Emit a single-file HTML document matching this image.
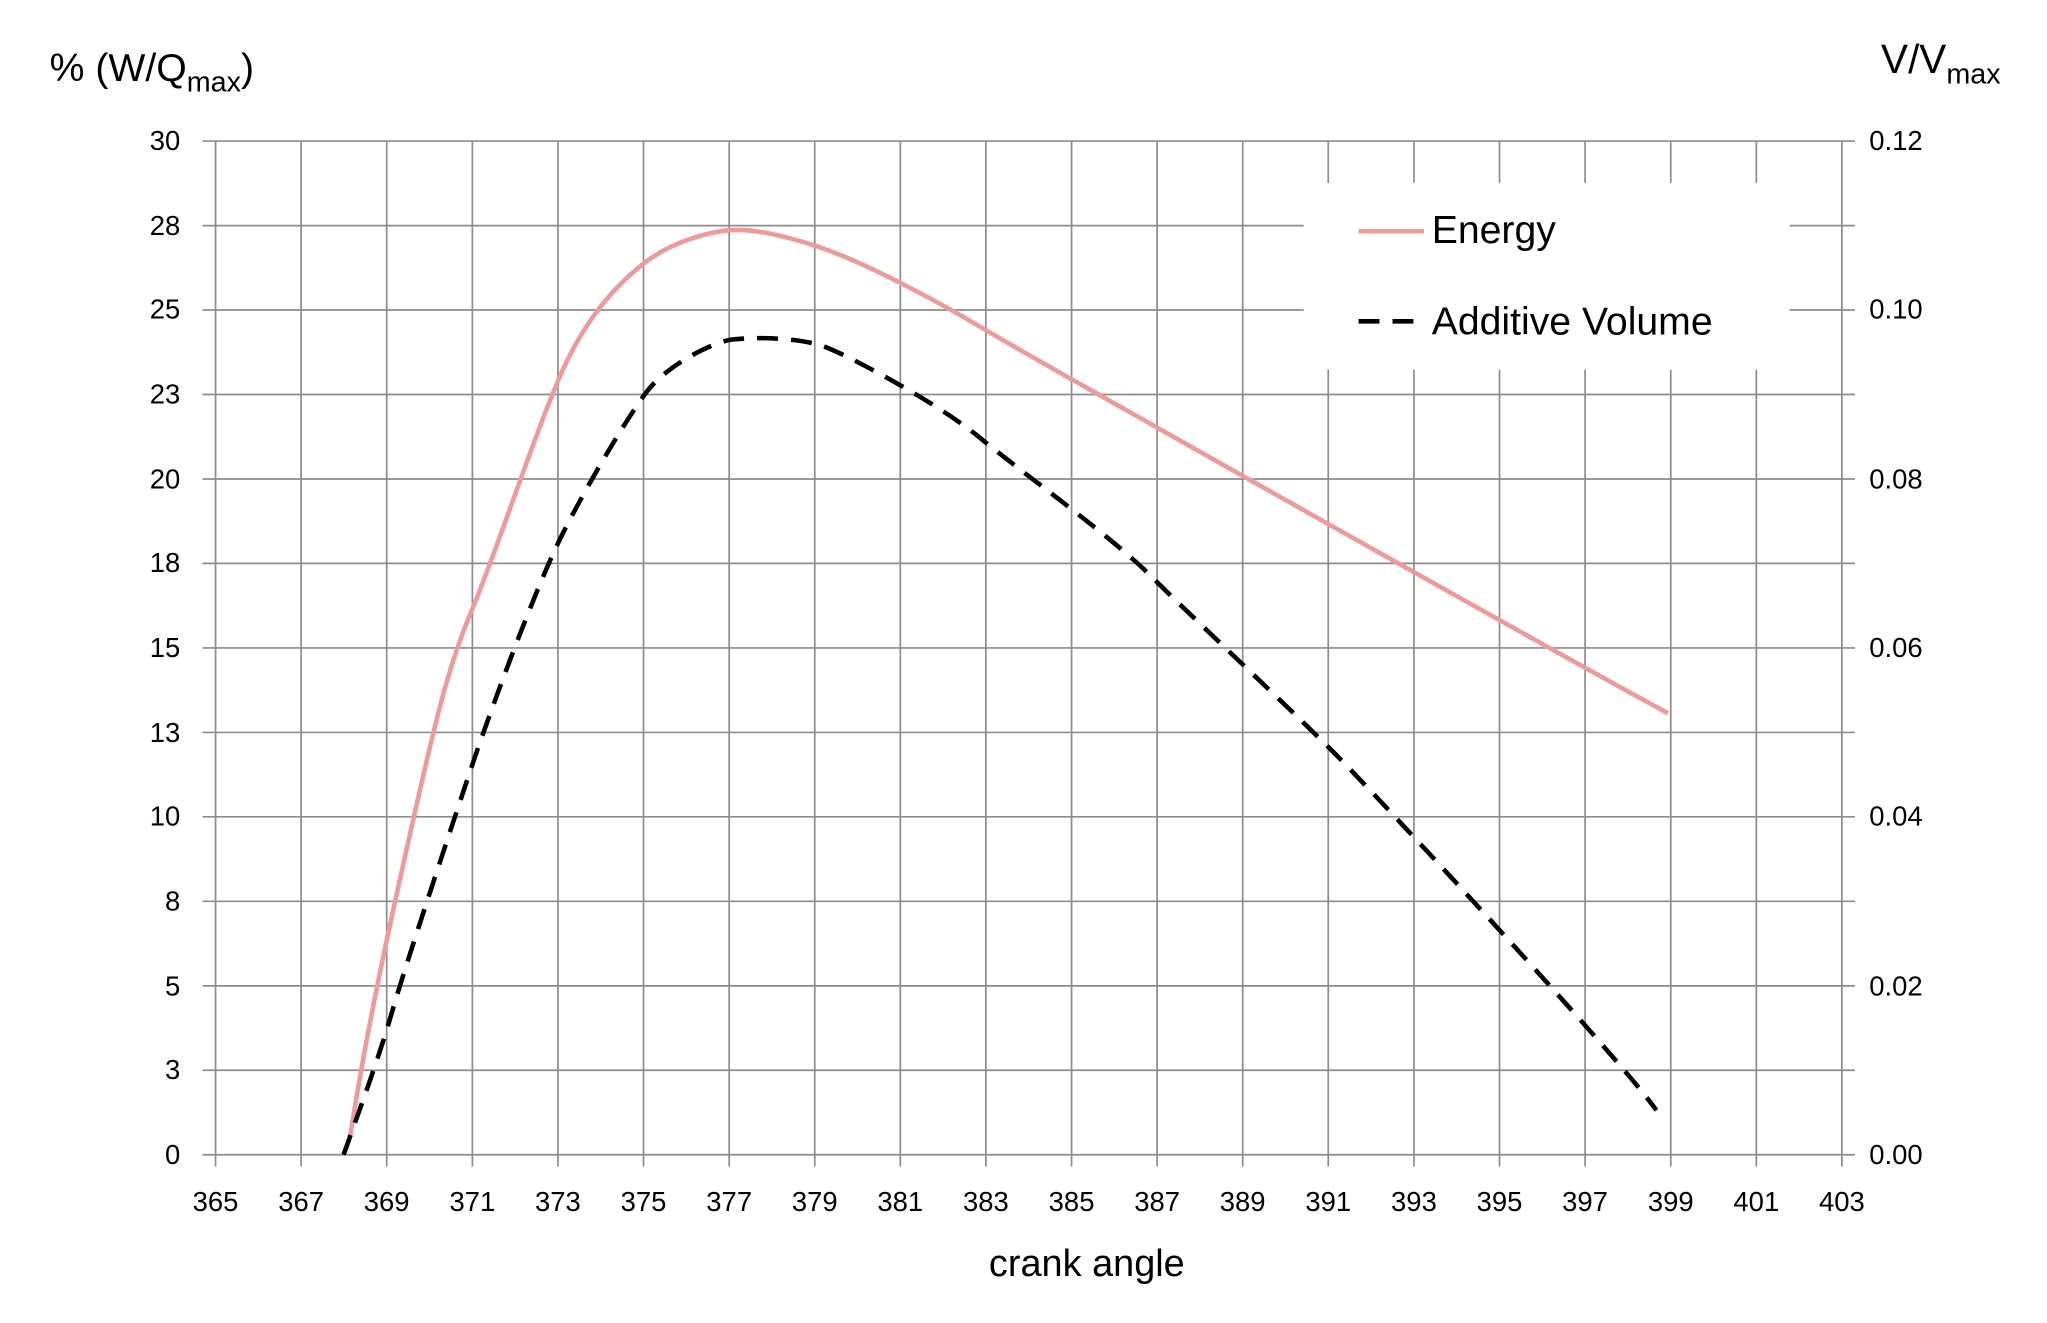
<!DOCTYPE html>
<html><head><meta charset="utf-8"><style>html,body{margin:0;padding:0;background:#fff;overflow:hidden;width:2047px;height:1323px}svg{display:block}</style></head>
<body>
<svg width="2047" height="1323" viewBox="0 0 1567 1012.8" xmlns="http://www.w3.org/2000/svg" font-family="'Liberation Sans', sans-serif">
<rect width="1567" height="1012.8" fill="#fff"/>
<g stroke="#8c8c8c" stroke-width="1.3">
<line x1="155" y1="108" x2="1420" y2="108"/><line x1="155" y1="172.7" x2="1420" y2="172.7"/><line x1="155" y1="237.3" x2="1420" y2="237.3"/><line x1="155" y1="302" x2="1420" y2="302"/><line x1="155" y1="366.7" x2="1420" y2="366.7"/><line x1="155" y1="431.3" x2="1420" y2="431.3"/><line x1="155" y1="496" x2="1420" y2="496"/><line x1="155" y1="560.7" x2="1420" y2="560.7"/><line x1="155" y1="625.3" x2="1420" y2="625.3"/><line x1="155" y1="690" x2="1420" y2="690"/><line x1="155" y1="754.7" x2="1420" y2="754.7"/><line x1="155" y1="819.3" x2="1420" y2="819.3"/><line x1="155" y1="884" x2="1420" y2="884"/>
<line x1="165" y1="108" x2="165" y2="893"/><line x1="230.5" y1="108" x2="230.5" y2="893"/><line x1="296" y1="108" x2="296" y2="893"/><line x1="361.6" y1="108" x2="361.6" y2="893"/><line x1="427.1" y1="108" x2="427.1" y2="893"/><line x1="492.6" y1="108" x2="492.6" y2="893"/><line x1="558.2" y1="108" x2="558.2" y2="893"/><line x1="623.7" y1="108" x2="623.7" y2="893"/><line x1="689.2" y1="108" x2="689.2" y2="893"/><line x1="754.7" y1="108" x2="754.7" y2="893"/><line x1="820.3" y1="108" x2="820.3" y2="893"/><line x1="885.8" y1="108" x2="885.8" y2="893"/><line x1="951.3" y1="108" x2="951.3" y2="893"/><line x1="1016.8" y1="108" x2="1016.8" y2="893"/><line x1="1082.4" y1="108" x2="1082.4" y2="893"/><line x1="1147.9" y1="108" x2="1147.9" y2="893"/><line x1="1213.4" y1="108" x2="1213.4" y2="893"/><line x1="1279" y1="108" x2="1279" y2="893"/><line x1="1344.5" y1="108" x2="1344.5" y2="893"/><line x1="1410" y1="108" x2="1410" y2="893"/>
</g>
<rect x="998" y="140" width="372" height="143" fill="#fff"/>
<path d="M268,870 C282,780 300,700 318,620 S345,505 362,465 S410,330 430,285 S475,215 495,200 S545,176 565,176 S620,185 650,198 S720,232 750,250 S1200,505 1277,546" fill="none" stroke="#ee9a9a" stroke-width="3.5"/>
<path d="M263,884 C275,850 290,810 300,775 S345,635 360,590 S410,450 430,410 S480,320 495,300 S545,262 560,260 S610,258 630,265 S720,310 750,335 S850,410 880,440 S985,540 1020,575 S1240,810 1268,850" fill="none" stroke="#000" stroke-width="3.5" stroke-dasharray="16,10"/>
<line x1="1040" y1="177" x2="1090" y2="177" stroke="#ee9a9a" stroke-width="3.5"/>
<line x1="1040" y1="246" x2="1092" y2="246" stroke="#000" stroke-width="3.5" stroke-dasharray="16,10"/>
<g font-size="30" fill="#000"><text x="1096" y="186">Energy</text><text x="1096" y="256">Additive Volume</text></g>
<g font-size="21" text-anchor="end" fill="#000">
<text x="138" y="115">30</text><text x="138" y="180">28</text><text x="138" y="244">25</text><text x="138" y="309">23</text><text x="138" y="374">20</text><text x="138" y="438">18</text><text x="138" y="503">15</text><text x="138" y="568">13</text><text x="138" y="632">10</text><text x="138" y="697">8</text><text x="138" y="762">5</text><text x="138" y="826">3</text><text x="138" y="891">0</text>
</g>
<g font-size="21" fill="#000">
<text x="1431" y="115">0.12</text><text x="1431" y="244">0.10</text><text x="1431" y="374">0.08</text><text x="1431" y="503">0.06</text><text x="1431" y="632">0.04</text><text x="1431" y="762">0.02</text><text x="1431" y="891">0.00</text>
</g>
<g font-size="21" text-anchor="middle" fill="#000">
<text x="165" y="927">365</text><text x="230.5" y="927">367</text><text x="296" y="927">369</text><text x="361.6" y="927">371</text><text x="427.1" y="927">373</text><text x="492.6" y="927">375</text><text x="558.2" y="927">377</text><text x="623.7" y="927">379</text><text x="689.2" y="927">381</text><text x="754.7" y="927">383</text><text x="820.3" y="927">385</text><text x="885.8" y="927">387</text><text x="951.3" y="927">389</text><text x="1016.8" y="927">391</text><text x="1082.4" y="927">393</text><text x="1147.9" y="927">395</text><text x="1213.4" y="927">397</text><text x="1279" y="927">399</text><text x="1344.5" y="927">401</text><text x="1410" y="927">403</text>
</g>
<text x="832" y="977" font-size="29" text-anchor="middle">crank angle</text>
<text x="38" y="62" font-size="30">% (W/Q<tspan font-size="22" dy="8">max</tspan><tspan dy="-8">)</tspan></text>
<text x="1440" y="56" font-size="31">V/V<tspan font-size="22" dy="8">max</tspan></text>
</svg>
</body></html>
